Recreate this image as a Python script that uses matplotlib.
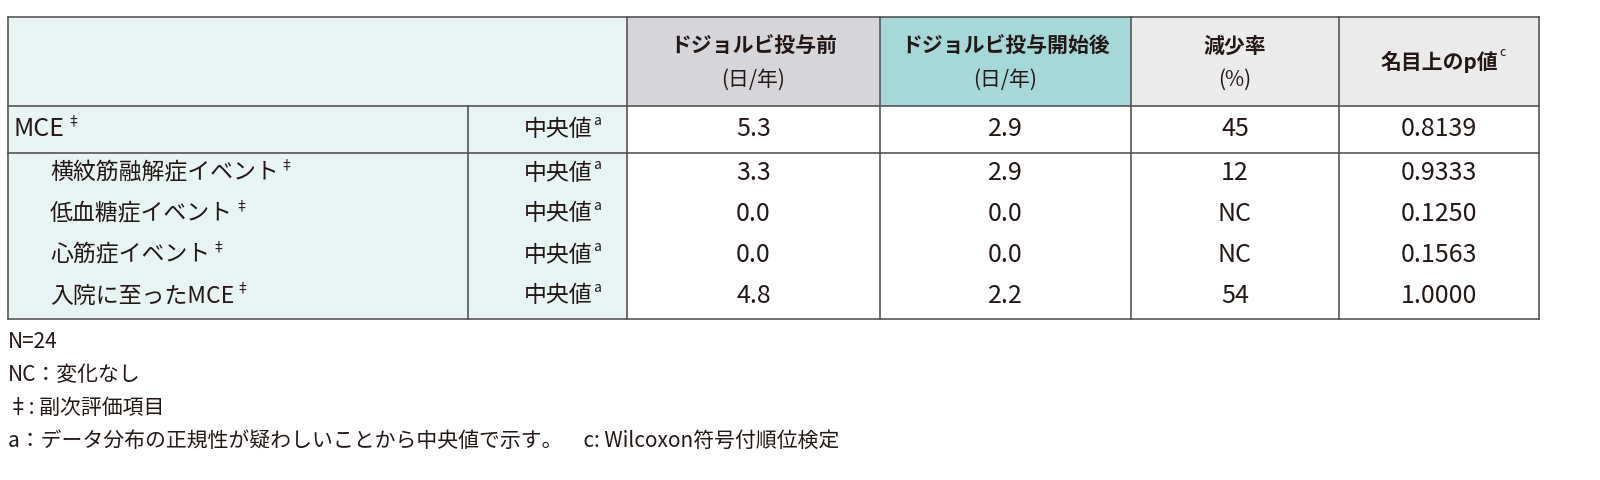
import matplotlib
matplotlib.use("Agg")
import matplotlib.pyplot as plt
from matplotlib.patches import Rectangle

plt.rcParams['font.family'] = ['Noto Sans CJK JP', 'DejaVu Sans']

headers = [("ドジョルビ投与前", "(日/年)"), ("ドジョルビ投与開始後", "(日/年)"), ("減少率", "(%)"), ("名目上のp値", "")]
row_labels = ["MCE", "横紋筋融解症イベント", "低血糖症イベント", "心筋症イベント", "入院に至ったMCE"]
stat_label = "中央値"
before = ["5.3", "3.3", "0.0", "0.0", "4.8"]
after = ["2.9", "2.9", "0.0", "0.0", "2.2"]
reduction = ["45", "12", "NC", "NC", "54"]
pvals = ["0.8139", "0.9333", "0.1250", "0.1563", "1.0000"]
footnotes = ["N=24", "NC：変化なし", "‡: 副次評価項目", "a：データ分布の正規性が疑わしいことから中央値で示す。　c: Wilcoxon符号付順位検定"]

fig = plt.figure(figsize=(16, 4.8), dpi=100)
ax = fig.add_axes([0, 0, 1, 1])
ax.set_xlim(0, 1600); ax.set_ylim(480, 0); ax.axis('off')

xs = [8, 468, 627, 880, 1131, 1339, 1539]
top, hb, mb, bot = 17, 106, 153, 319
lc = '#555555'
ax.add_patch(Rectangle((xs[0], top), xs[2]-xs[0], bot-top, color='#e8f4f4', lw=0))
hcols = ['#d6d5da', '#a6d8da', '#ebebeb', '#ebebeb']
for i, c in enumerate(hcols):
    ax.add_patch(Rectangle((xs[2+i], top), xs[3+i]-xs[2+i], hb-top, color=c, lw=0))
for y in [top, hb, mb, bot]:
    ax.plot([xs[0], xs[-1]], [y, y], color=lc, lw=1.2)
for i, x in enumerate(xs):
    y0 = hb if i == 1 else top
    ax.plot([x, x], [y0, bot], color=lc, lw=1.2)

tc = '#231815'
fig.canvas.draw()
for i, (h1, h2) in enumerate(headers):
    cx = (xs[2+i] + xs[3+i]) / 2
    if h2:
        ax.text(cx, 46, h1, ha='center', va='center', fontsize=15, fontweight='bold', color=tc)
        ax.text(cx, 80, h2, ha='center', va='center', fontsize=15, color=tc)
    else:
        t = ax.text(cx, 62, h1, ha='center', va='center', fontsize=15, fontweight='bold', color=tc)
        fig.canvas.draw()
        bb = t.get_window_extent()
        ax.text(bb.x1 + 1, 52, "c", ha='left', va='center', fontsize=9, color=tc)

ys = [129, 173, 214, 255, 296]
for r in range(5):
    y = ys[r]
    lx = 14 if r == 0 else 50
    fs = 18 if r == 0 else 16.5
    t = ax.text(lx, y, row_labels[r], ha='left', va='center', fontsize=fs, color=tc)
    fig.canvas.draw()
    bb = t.get_window_extent()
    ax.text(bb.x1 + 1, y - 8, "‡", ha='left', va='center', fontsize=10, color=tc)
    ax.text(592, y, stat_label, ha='right', va='center', fontsize=16.5, color=tc)
    ax.text(593, y - 8, "a", ha='left', va='center', fontsize=10, color=tc)
    for j, col in enumerate([before, after, reduction, pvals]):
        cx = (xs[2+j] + xs[3+j]) / 2
        ax.text(cx, y, col[r], ha='center', va='center', fontsize=18, color=tc)

for f, y in zip(footnotes, [342, 375, 408, 441]):
    ax.text(8, y, f, ha='left', va='center', fontsize=15, color=tc)

fig.savefig('out.png', dpi=100)
